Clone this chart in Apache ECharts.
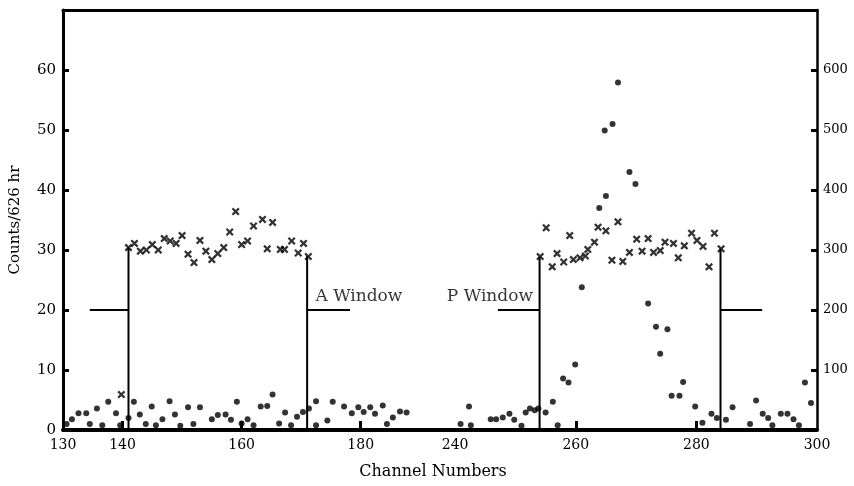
<!DOCTYPE html>
<html>
<head>
<meta charset="utf-8">
<script src="https://cdn.jsdelivr.net/npm/echarts@6/dist/echarts.min.js"></script>
<style>
html,body{margin:0;padding:0;background:#fff;}
#c{width:854px;height:486px;}
</style>
</head>
<body>
<div id="c"></div>
<script>
// ---------- data ----------
// A region (left axis, Counts/626 hr)
var aCrossCh  = [139.8,141,142,143,144,145,146,147,148,149,150,151,152,153,154,155,156,157,158,159,160,161,162,163.5,164.3,165.2,166.5,167.2,168.4,169.5,170.4,171.2];
var aCrossVal = [5.9,30.4,31.1,29.8,30.0,30.9,30.0,31.9,31.5,31.1,32.4,29.3,27.9,31.6,29.8,28.4,29.4,30.4,33.0,36.4,30.9,31.5,34.0,35.1,30.2,34.6,30.1,30.1,31.5,29.5,31.1,28.9];
var aDotCh  = [130.6,131.5,132.6,133.9,134.5,135.7,136.6,137.6,138.9,139.6,141.0,141.9,142.9,143.9,144.9,145.6,146.7,147.9,148.8,149.7,151.0,151.9,153.0,155.0,156.0,157.3,158.2,159.2,160.0,161.0,162.0,163.2,164.3,165.2,166.3,167.3,168.3,169.3,170.3,171.3,172.5,172.5,174.4,175.3,177.2,178.5,179.6,180.5,181.6,182.4,183.7,184.4,185.4,186.6,187.7];
var aDotVal = [1.0,1.8,2.8,2.8,1.0,3.6,0.8,4.7,2.8,0.8,2.0,4.7,2.6,1.0,3.9,0.8,1.8,4.8,2.6,0.7,3.8,1.0,3.8,1.8,2.5,2.6,1.7,4.7,1.1,1.8,0.8,3.9,4.0,5.9,1.1,2.9,0.8,2.2,3.0,3.6,4.8,0.8,1.6,4.7,3.9,2.8,3.8,3.0,3.8,2.7,4.1,1.0,2.1,3.1,2.9];
// P region (right axis)
var pCrossCh  = [254.1,255.1,256.1,256.9,258.0,259.0,259.6,260.7,261.6,262.0,263.1,263.7,265.0,266.0,267.0,267.8,268.9,270.1,271.0,272.0,272.9,274.0,274.8,276.2,277.0,278.0,279.2,280.1,281.1,282.1,283.0,284.1];
var pCrossVal = [289,337,272,294,280,324,284,287,290,301,313,338,332,283,347,281,296,318,298,319,296,299,313,311,287,307,328,316,306,272,328,302];
var pDotCh  = [240.9,242.3,242.6,245.9,246.8,247.9,249.0,249.8,251.0,251.7,252.4,253.2,253.8,255.0,256.2,257.0,257.9,258.8,259.9,261.0,263.9,264.8,265.0,266.1,267.0,268.9,269.9,272.0,273.3,274.0,275.2,275.9,277.2,277.8,279.8,281.0,282.5,283.4,284.9,286.0,288.9,289.9,291.0,291.9,292.6,294.0,295.1,296.1,297.0,298.0,299.0];
var pDotVal = [10,39,8,18,18,21,27,17,7,29,36,33,36,29,47,8,86,79,109,238,370,499,390,510,579,430,410,211,172,127,168,57,57,80,39,12,27,20,17,38,10,49,27,20,8,27,27,18,8,79,45];
// windows
var aWindowCh = [141, 171];
var aWindowTop = [30.4, 29.0];
var aArrowEnd = [134.5, 178.2];
var aArrowLevel = 20;
var pWindowCh = [254, 284];
var pWindowTop = [289, 302];
var pArrowEnd = [247.1, 290.9];
var pArrowLevel = 200;
// tick labels
var xTicksA = [130, 140, 160, 180];
var xTickMarksA = [140, 160, 180];
var xTicksP = [240, 260, 280, 300];
var xTickMarksP = [260, 280];
var leftTitle = 'Counts/626 hr';
var bottomTitle = 'Channel Numbers';

// ---------- chart ----------
var INK = '#000';
var FONT = 'DejaVu Serif';
function zip(a, b) { return a.map(function (v, i) { return [v, b[i]]; }); }
var crossPath = 'path://M2,0 L5,3 L8,0 L10,2 L7,5 L10,8 L8,10 L5,7 L2,10 L0,8 L3,5 L0,2 Z';

var series = [];
function addScatter(xi, yi, ch, val, sym, size) {
  series.push({ type: 'scatter', xAxisIndex: xi, yAxisIndex: yi, data: zip(ch, val),
    symbol: sym, symbolSize: size, itemStyle: { color: INK }, silent: true, z: 5 });
}
addScatter(0, 0, aCrossCh, aCrossVal, crossPath, 8);
addScatter(0, 0, aDotCh, aDotVal, 'circle', 6);
addScatter(1, 1, pCrossCh, pCrossVal, crossPath, 8);
addScatter(1, 1, pDotCh, pDotVal, 'circle', 6);

function addLine(xi, yi, pts, w) {
  series.push({ type: 'line', xAxisIndex: xi, yAxisIndex: yi, data: pts, symbol: 'none',
    lineStyle: { color: INK, width: w }, silent: true, z: 4, animation: false });
}
// A window
addLine(0, 0, [[aWindowCh[0], 0], [aWindowCh[0], aWindowTop[0]]], 2);
addLine(0, 0, [[aWindowCh[1], 0], [aWindowCh[1], aWindowTop[1]]], 2);
addLine(0, 0, [[aArrowEnd[0], aArrowLevel], [aWindowCh[0], aArrowLevel]], 2);
addLine(0, 0, [[aWindowCh[1], aArrowLevel], [aArrowEnd[1], aArrowLevel]], 2);
// P window
addLine(1, 1, [[pWindowCh[0], 0], [pWindowCh[0], pWindowTop[0]]], 2);
addLine(1, 1, [[pWindowCh[1], 0], [pWindowCh[1], pWindowTop[1]]], 2);
addLine(1, 1, [[pArrowEnd[0], pArrowLevel], [pWindowCh[0], pArrowLevel]], 2);
addLine(1, 1, [[pWindowCh[1], pArrowLevel], [pArrowEnd[1], pArrowLevel]], 2);

// window labels
series.push({ type: 'scatter', xAxisIndex: 0, yAxisIndex: 0, data: [[172.4, 22.2]], symbolSize: 0,
  label: { show: true, position: 'right', distance: 0, formatter: 'A Window', color: INK, fontFamily: FONT, fontSize: 17 }, silent: true });
series.push({ type: 'scatter', xAxisIndex: 1, yAxisIndex: 1, data: [[252.9, 222]], symbolSize: 0,
  label: { show: true, position: 'left', distance: 0, formatter: 'P Window', color: INK, fontFamily: FONT, fontSize: 17 }, silent: true });

function xAx(grid, pos, min, max, labels, marks, w) {
  var bottom = pos === 'bottom';
  return {
    type: 'value', gridIndex: grid, position: pos, min: min, max: max,
    axisLine: { show: true, onZero: false, lineStyle: { color: INK, width: w } },
    axisTick: { show: bottom, inside: true, length: 9, customValues: marks, lineStyle: { color: INK, width: 3 } },
    axisLabel: { show: bottom, customValues: labels, color: INK, fontFamily: FONT, fontSize: 14, margin: 8 },
    splitLine: { show: false }
  };
}

var option = {
  backgroundColor: '#fff',
  animation: false,
  grid: [
    { left: 63, right: 426, top: 10, bottom: 56 },
    { left: 428, right: 37, top: 10, bottom: 56 }
  ],
  xAxis: [
    xAx(0, 'bottom', 130, 191.3, xTicksA, xTickMarksA, 4),
    xAx(1, 'bottom', 235.5, 300, xTicksP, xTickMarksP, 4),
    xAx(0, 'top', 130, 191.3, xTicksA, xTickMarksA, 3),
    xAx(1, 'top', 235.5, 300, xTicksP, xTickMarksP, 3)
  ],
  yAxis: [
    { type: 'value', gridIndex: 0, position: 'left', min: 0, max: 70, interval: 10,
      name: leftTitle, nameLocation: 'middle', nameRotate: 90, nameGap: 40,
      nameTextStyle: { color: INK, fontFamily: FONT, fontSize: 15 },
      axisLine: { show: true, lineStyle: { color: INK, width: 3 } },
      axisTick: { show: true, inside: true, length: 6, lineStyle: { color: INK, width: 3 } },
      axisLabel: { color: INK, fontFamily: FONT, fontSize: 15, margin: 7,
        formatter: function (v) { return v === 70 ? '' : String(v); } },
      splitLine: { show: false } },
    { type: 'value', gridIndex: 1, position: 'right', min: 0, max: 700, interval: 100,
      axisLine: { show: true, lineStyle: { color: INK, width: 2.5 } },
      axisTick: { show: true, inside: true, length: 6, lineStyle: { color: INK, width: 3 } },
      axisLabel: { color: INK, fontFamily: FONT, fontSize: 13, margin: 6,
        formatter: function (v) { return (v === 0 || v === 700) ? '' : String(v); } },
      splitLine: { show: false } }
  ],
  graphic: [
    { type: 'text', x: 433, y: 472, style: { text: bottomTitle, fill: INK, font: '16px "DejaVu Serif"', textAlign: 'center', textVerticalAlign: 'middle' } }
  ],
  series: series
};
var chart = echarts.init(document.getElementById('c'), null, { renderer: 'canvas' });
chart.setOption(option);
</script>
</body>
</html>
